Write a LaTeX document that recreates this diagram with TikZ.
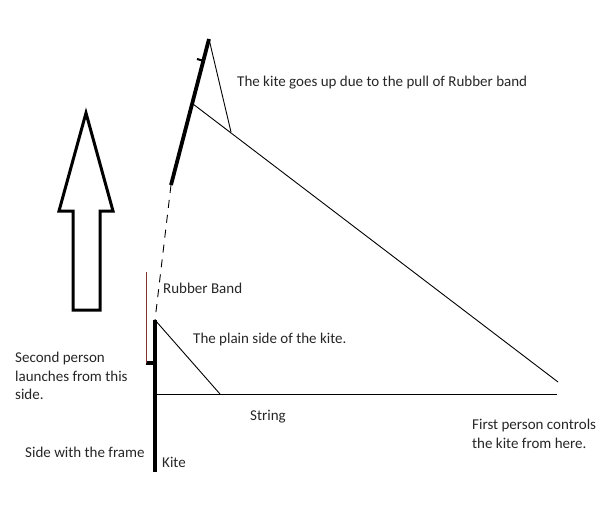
\documentclass[tikz,border=0pt]{standalone}
\usepackage{fontspec}
\setmainfont{Carlito}
\begin{document}
\begin{tikzpicture}[x=1pt,y=-1pt,
  lbl/.style={anchor=west,inner sep=0pt,font=\fontsize{15}{18.5}\selectfont,text=black!85,align=left},
  thin/.style={line width=0.9pt},
  thick/.style={line width=3.8pt},
  band/.style={line width=0.9pt,draw={rgb,255:red,130;green,50;blue,50}}]
\useasboundingbox (0,0) rectangle (614,528);
% coordinates
\coordinate (kt) at (155,320);
\coordinate (kb) at (155,472);
\coordinate (sa) at (155,394);
\coordinate (ps) at (220,394);
\coordinate (se) at (557,394);
\coordinate (le) at (558,382);
\coordinate (ub) at (171,185);
\coordinate (ut) at (209,39);
\coordinate (um) at (193,104);
\coordinate (uc) at (231,132);
% lower kite
\draw[thick] (kt) -- (kb);
\draw[thick] (146,363) -- (kb |- 0,363);
\draw[band] (146,272) -- (146,363);
\draw[thin] (kt) -- (ps);
\draw[thin] (sa) -- (se);
% upper kite
\draw[thick] (ub) -- (ut);
\draw[line width=2pt] (197,59) -- (204,61);
\draw[thin] (um) -- (le);
\draw[thin] (ut) -- (uc);
\draw[thin,dash pattern=on 8pt off 7pt] (ub) -- (kt);
% arrow
\draw[line width=3pt,line join=miter] (86,113) -- (113,211) -- (100,211) -- (100,310) -- (73,310) -- (73,211) -- (59,211) -- cycle;
% labels
\node[lbl] (t1) at (237,83) {The kite goes up due to the pull of Rubber band};
\node[lbl] (t2) at (163,288) {Rubber Band};
\node[lbl] (t3) at (193,339) {The plain side of the kite.};
\node[lbl] (t4) at (15,376) {Second person\\launches from this\\side.};
\node[lbl] (t5) at (25,452) {Side with the frame};
\node[lbl] (t6) at (162,462) {Kite};
\node[lbl] (t7) at (250,417) {String};
\node[lbl] (t8) at (472,434) {First person controls\\the kite from here.};
\end{tikzpicture}
\end{document}
